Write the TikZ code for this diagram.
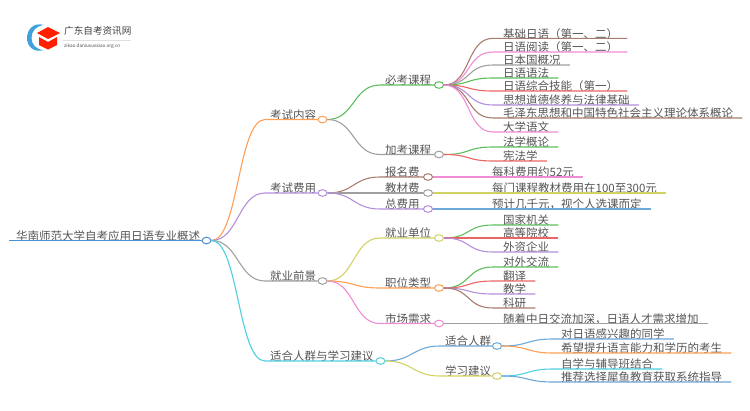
\documentclass[tikz,border=0pt]{standalone}
\usepackage{fontspec}
\setmainfont{Noto Sans CJK SC}
\usetikzlibrary{shapes.geometric}
\definecolor{cBlue}{HTML}{4A90D2}
\definecolor{cOrange}{HTML}{FF9F55}
\definecolor{cPurple}{HTML}{B48FDC}
\definecolor{cGray}{HTML}{A0A0A0}
\definecolor{cCyan}{HTML}{4FD0E0}
\definecolor{cBrown}{HTML}{A87C70}
\definecolor{cPink}{HTML}{F08CD4}
\definecolor{cGreen}{HTML}{5CBE5C}
\definecolor{cRed}{HTML}{EC6464}
\definecolor{cYellow}{HTML}{D2D264}
\definecolor{cSky}{HTML}{6CA8D8}
\definecolor{cText}{HTML}{555555}
\tikzset{
  lab/.style={anchor=south west, inner xsep=0pt, inner ysep=0pt, text depth=0pt, text=cText,
    font=\fontsize{11.5}{13}\selectfont, execute at begin node=\hspace{#1pt}, execute at end node=\hspace{9pt}},
  hub/.style={draw=#1, fill=white, ellipse, inner sep=0pt, minimum width=9pt, minimum height=6.6pt, line width=1pt},
  wire/.style={draw=#1, line width=1.1pt}
}
\begin{document}
\begin{tikzpicture}[x=1pt,y=-1pt]
\useasboundingbox (0,0) rectangle (750,410);
% logo
\fill[cBlue!85!cyan] (44,25) .. controls (33,22) and (27,30) .. (27,38) .. controls (27,46) and (33,53) .. (44,50) .. controls (36,50) and (31.5,44) .. (31.5,38) .. controls (31.5,31) and (36,26) .. cycle;
\fill[red!75!orange] (37,33) -- (48,27) -- (60,33) -- (48,39) -- cycle;
\fill[red!75!orange] (39,37) -- (48,42) -- (57,37) -- (57,45) -- (48,49.5) -- (39,45) -- cycle;
\node[inner sep=0pt, anchor=west, font=\fontsize{9.6}{10}\selectfont, text=black!75] (logoText) at (64,31) {广东自考资讯网};
\draw[black!12, line width=.4pt] (63,40) -- (131,40);
\node[inner sep=0pt, anchor=west, font=\fontsize{4.6}{5}\selectfont, text=black!70] (logoUrl) at (64,46) {zikao.daniuxuexiao.org.cn};
% root
\node[lab=7] (rootT) at (9,240.5) {华南师范大学自考应用日语专业概述};
\node[hub=cBlue] (root) at (206.5,240.5) {};
\draw[wire=cBlue] (rootT.south west) -- (root.west);
% first level and second level
\foreach \nm/\pa/\xa/\xb/\yy/\col/\txt in {
 a/root/265/322.5/119.5/cOrange/考试内容,
 b/root/265/322.5/193/cPurple/考试费用,
 c/root/265/322.5/281/cGray/就业前景,
 d/root/265/380.5/361/cCyan/适合人群与学习建议,
 a1/a/380/439/85/cGreen/必考课程,
 a2/a/380/439/154.5/cGray/加考课程,
 b1/b/380/428/177/cBrown/报名费,
 b2/b/380/428/193/cGray/教材费,
 b3/b/380/428/209/cPurple/总费用,
 c1/c/380/439/238/cYellow/就业单位,
 c2/c/380/439/288/cOrange/职位类型,
 c3/c/380/439/323.5/cPink/市场需求,
 d1/d/440/497/346/cSky/适合人群,
 d2/d/440/497/376/cYellow/学习建议} {
  \node[lab=5] (\nm T) at (\xa,\yy) {\txt};
  \node[hub=\col] (\nm) at (\xb,\yy) {};
  \draw[wire=\col] (\pa.east) .. controls +(27,0) and +(-27,0) .. (\nm T.south west) -- (\nm.west);
}
% leaves
\foreach \nm/\pa/\xa/\yy/\pad/\col/\txt in {
 l1/a1/493/38.3/10/cBrown/基础日语（第一、二）,
 l2/a1/493/52/10/cPink/日语阅读（第一、二）,
 l3/a1/493/65/10/cGray/日本国概况,
 l4/a1/493/78/10/cGreen/日语语法,
 l5/a1/493/91/10/cRed/日语综合技能（第一）,
 l6/a1/493/105/10/cPurple/思想道德修养与法律基础,
 l7/a1/493/118/10/cBrown/毛泽东思想和中国特色社会主义理论体系概论,
 l8/a1/493/132/10/cPink/大学语文,
 l9/a2/493/147/10/cGreen/法学概论,
 l10/a2/493/161/10/cRed/宪法学,
 l11/b1/488/177/4/cPink/每科费用约52元,
 l12/b2/488/193/4/cYellow/每门课程教材费用在100至300元,
 l13/b3/488/209/4/cSky/预计几千元，视个人选课而定,
 l14/c1/493/225/10/cGreen/国家机关,
 l15/c1/493/238/10/cRed/高等院校,
 l16/c1/493/252/10/cPurple/外资企业,
 l17/c2/493/267/10/cGreen/对外交流,
 l18/c2/493/281/10/cRed/翻译,
 l19/c2/493/294/10/cPurple/教学,
 l20/c2/493/308/10/cBrown/科研,
 l21/c3/493/323.5/10/cGray/随着中日交流加深，日语人才需求增加,
 l22/d1/553/339/8/cSky/对日语感兴趣的同学,
 l23/d1/553/353/8/cOrange/希望提升语言能力和学历的考生,
 l24/d2/553/369/8/cCyan/自学与辅导班结合,
 l25/d2/553/382/8/cSky/推荐选择犀鱼教育获取系统指导} {
  \node[lab=\pad] (\nm) at (\xa,\yy) {\txt};
  \draw[wire=\col] (\pa.east) .. controls +(27,0) and +(-27,0) .. (\nm.south west) -- (\nm.south east);
}
\end{tikzpicture}
\end{document}
